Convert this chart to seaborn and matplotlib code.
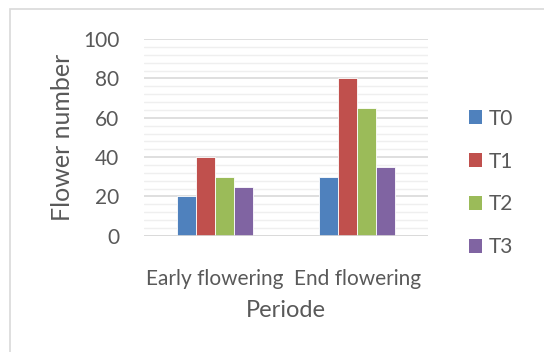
import matplotlib
matplotlib.use("Agg")
import matplotlib.pyplot as plt
import seaborn as sns
import pandas as pd
from matplotlib.patches import Rectangle, Patch

periods = ["Early flowering", "End flowering"]
treatments = ["T0", "T1", "T2", "T3"]
T0 = [20, 30]
T1 = [40, 80]
T2 = [30, 65]
T3 = [25, 35]
colors = ["#4F81BD", "#C0504D", "#9BBB59", "#8064A2"]

rows = []
for t, vals in zip(treatments, [T0, T1, T2, T3]):
    for p, v in zip(periods, vals):
        rows.append({"Periode": p, "Treatment": t, "Flower number": v})
df = pd.DataFrame(rows)

sns.set_style("white")
plt.rcParams['font.family'] = ['Lato', 'DejaVu Sans']
txt = "#595959"

fig = plt.figure(figsize=(5.44, 3.52), dpi=100)
ax = fig.add_axes([0.265, 0.330, 0.522, 0.559])
fig.patches.append(Rectangle((10/544, -0.1), 1.2, (352-9)/352 + 0.1, transform=fig.transFigure,
                             fill=False, edgecolor="#D9D9D9", linewidth=1.2))

sns.barplot(data=df, x="Periode", y="Flower number", hue="Treatment",
            palette=colors, width=0.54, ax=ax, legend=False, saturation=1)
for p in ax.patches:
    p.set_edgecolor("white")
    p.set_linewidth(0.6)

ax.set_ylim(0, 100)
ax.set_xlim(-0.5, 1.5)
ax.set_yticks(range(0, 101, 20))
ax.set_yticks(range(0, 101, 4), minor=True)
ax.grid(axis="y", which="major", color="#D9D9D9", linewidth=1.2, zorder=0)
ax.grid(axis="y", which="minor", color="#EFEFEF", linewidth=1.0, zorder=0)
ax.set_axisbelow(True)
for s in ax.spines.values():
    s.set_visible(False)
ax.axhline(0, color="#D9D9D9", linewidth=1.2, zorder=1)
ax.tick_params(axis="both", which="both", length=0, colors=txt, labelsize=15)
ax.tick_params(axis="y", pad=18)
ax.tick_params(axis="x", pad=24)
ax.set_ylabel("Flower number", color=txt, fontsize=18, labelpad=6)
ax.set_xlabel("Periode", color=txt, fontsize=17, labelpad=8)

handles = [Patch(facecolor=c, edgecolor="none") for c in colors]
fig.legend(handles, treatments, loc="center left", bbox_to_anchor=(0.827, 0.48),
           frameon=False, fontsize=15, labelspacing=1.1, handlelength=0.65,
           handleheight=0.65, handletextpad=0.3, labelcolor=txt)

fig.savefig("out.png", dpi=100, facecolor="white")
